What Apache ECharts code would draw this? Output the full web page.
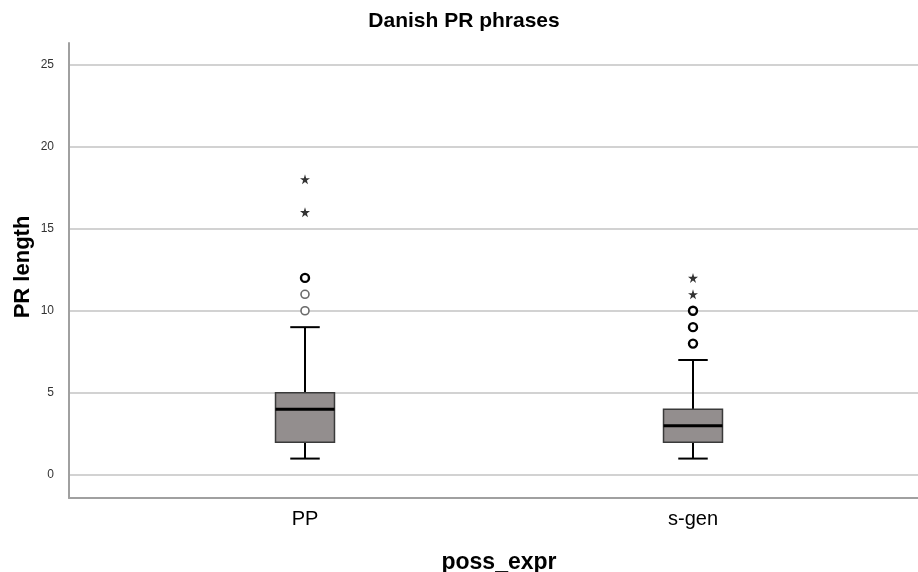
<!DOCTYPE html>
<html>
<head>
<meta charset="utf-8">
<script src="https://cdn.jsdelivr.net/npm/echarts@6/dist/echarts.min.js"></script>
<style>html,body{margin:0;padding:0;background:#fff;}#c{width:918px;height:572px;}</style>
</head>
<body>
<div id="c"></div>
<script>
// ---- data ----
var categories = ['PP', 's-gen'];
var boxMin    = [1, 1];
var boxQ1     = [2, 2];
var boxMedian = [4, 3];
var boxQ3     = [5, 4];
var boxMax    = [9, 7];
// mild outliers (circles): category, value, number of cases
var mildCat   = ['PP', 'PP', 'PP', 's-gen', 's-gen', 's-gen'];
var mildValue = [10, 11, 12, 8, 9, 10];
var mildCount = [1, 1, 2, 2, 2, 2];
// extreme outliers (stars)
var extCat    = ['PP', 'PP', 's-gen', 's-gen'];
var extValue  = [16, 18, 11, 12];
var yTicks    = [0, 5, 10, 15, 20, 25];
var titleText = 'Danish PR phrases';
var xTitle    = 'poss_expr';
var yTitle    = 'PR length';

var FONT = '"Liberation Sans", Arial, sans-serif';
var Y_MIN = -1.4, Y_MAX = 26.3;

var boxData = categories.map(function (c, i) {
  return [i, boxMin[i], boxQ1[i], boxMedian[i], boxQ3[i], boxMax[i]];
});
var mildSingle = [], mildMulti = [];
mildCat.forEach(function (c, i) {
  (mildCount[i] > 1 ? mildMulti : mildSingle).push([c, mildValue[i]]);
});
var extData = extCat.map(function (c, i) { return [c, extValue[i]]; });

var STAR = 'path://M50,0 L61,35 L98,35 L68,57 L79,91 L50,70 L21,91 L32,57 L2,35 L39,35 Z';

var chart = echarts.init(document.getElementById('c'), null, {renderer: 'canvas'});
chart.setOption({
  backgroundColor: '#ffffff',
  animation: false,
  title: {
    text: titleText,
    left: 464, top: 11, textAlign: 'center', padding: 0,
    textStyle: {fontFamily: FONT, fontSize: 21, fontWeight: 'bold', color: '#000'}
  },
  graphic: [
    {type: 'text', x: 499, y: 563, silent: true,
     style: {text: xTitle, font: 'bold 23px ' + FONT, fill: '#000',
             align: 'center', verticalAlign: 'middle'}},
    {type: 'text', x: 23, y: 267, rotation: Math.PI / 2, silent: true,
     style: {text: yTitle, font: 'bold 22px ' + FONT, fill: '#000',
             align: 'center', verticalAlign: 'middle'}}
  ],
  grid: [
    {left: 69, right: 0, top: 43, bottom: 74, containLabel: false, outerBoundsMode: 'none'},
    {left: 111, right: 31, top: 43, bottom: 74, containLabel: false, outerBoundsMode: 'none'}
  ],
  xAxis: [
    {gridIndex: 0, type: 'category', data: categories,
     axisLine: {show: true, onZero: false, lineStyle: {color: '#a0a0a0', width: 2}},
     axisTick: {show: false}, axisLabel: {show: false}, splitLine: {show: false}},
    {gridIndex: 1, type: 'category', data: categories,
     axisLine: {show: false, onZero: false}, axisTick: {show: false},
     axisLabel: {fontFamily: FONT, fontSize: 20, color: '#000', margin: 11},
     splitLine: {show: false}}
  ],
  yAxis: [
    {gridIndex: 0, type: 'value', min: Y_MIN, max: Y_MAX,
     axisLine: {show: true, lineStyle: {color: '#a0a0a0', width: 2}},
     axisTick: {show: false, customValues: yTicks},
     axisLabel: {customValues: yTicks, fontFamily: FONT, fontSize: 12, color: '#333', margin: 15},
     splitLine: {show: true, lineStyle: {color: '#d2d2d2', width: 2}}},
    {gridIndex: 1, type: 'value', min: Y_MIN, max: Y_MAX, show: false,
     splitLine: {show: false}}
  ],
  series: [
    {
      type: 'custom', xAxisIndex: 1, yAxisIndex: 1, data: boxData,
      encode: {x: 0, y: [1, 2, 3, 4, 5]},
      renderItem: function (params, api) {
        var xi = api.value(0);
        var pMin = api.coord([xi, api.value(1)]);
        var pQ1 = api.coord([xi, api.value(2)]);
        var pMed = api.coord([xi, api.value(3)]);
        var pQ3 = api.coord([xi, api.value(4)]);
        var pMax = api.coord([xi, api.value(5)]);
        var band = api.size([1, 0])[0];
        var hw = band * 0.076;
        var cw = hw / 2;
        var cx = pMin[0];
        var wStyle = {stroke: '#000', lineWidth: 2};
        return {type: 'group', children: [
          {type: 'line', shape: {x1: cx, y1: pMin[1], x2: cx, y2: pQ1[1]}, style: wStyle},
          {type: 'line', shape: {x1: cx, y1: pQ3[1], x2: cx, y2: pMax[1]}, style: wStyle},
          {type: 'line', shape: {x1: cx - cw, y1: pMin[1], x2: cx + cw, y2: pMin[1]}, style: wStyle},
          {type: 'line', shape: {x1: cx - cw, y1: pMax[1], x2: cx + cw, y2: pMax[1]}, style: wStyle},
          {type: 'rect', shape: {x: cx - hw, y: pQ3[1], width: 2 * hw, height: pQ1[1] - pQ3[1]},
           style: {fill: '#938e8e', stroke: '#3a3a3a', lineWidth: 1.5}},
          {type: 'line', shape: {x1: cx - hw, y1: pMed[1], x2: cx + hw, y2: pMed[1]},
           style: {stroke: '#000', lineWidth: 3}}
        ]};
      }
    },
    {
      type: 'scatter', xAxisIndex: 1, yAxisIndex: 1, data: mildSingle,
      symbol: 'circle', symbolSize: 8,
      itemStyle: {color: '#ffffff', borderColor: '#6a6a6a', borderWidth: 1.6, opacity: 1}
    },
    {
      type: 'scatter', xAxisIndex: 1, yAxisIndex: 1, data: mildMulti,
      symbol: 'circle', symbolSize: 8,
      itemStyle: {color: '#ffffff', borderColor: '#000000', borderWidth: 2.4, opacity: 1}
    },
    {
      type: 'scatter', xAxisIndex: 1, yAxisIndex: 1, data: extData,
      symbol: STAR, symbolSize: 10,
      itemStyle: {color: '#000', borderWidth: 0}
    }
  ]
});
</script>
</body>
</html>
